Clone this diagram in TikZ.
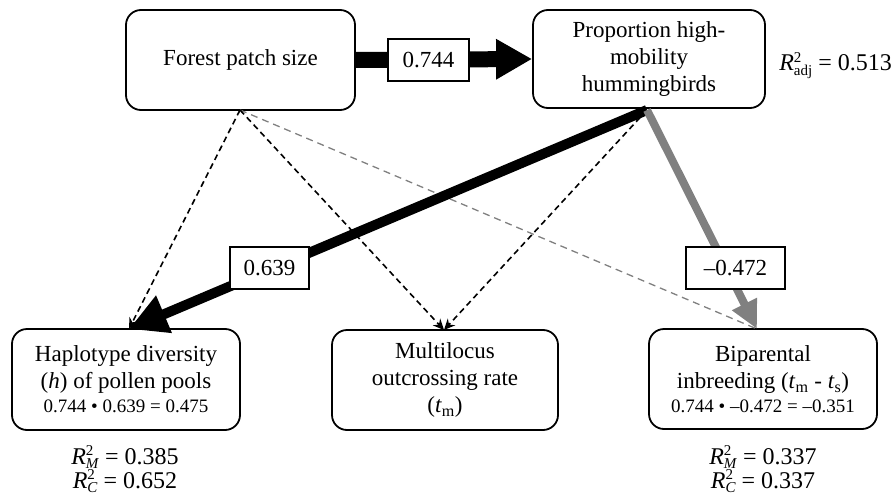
\documentclass[tikz,border=0pt]{standalone}
\usepackage{fontspec}
\setmainfont{Liberation Serif}
\usetikzlibrary{arrows.meta}
\definecolor{pathgray}{RGB}{128,128,128}
\newcommand{\Rsq}[1]{\textit{R}\makebox[0pt][l]{\raisebox{0.36em}{\fontsize{15}{15}\selectfont 2}}\raisebox{-0.2em}{\fontsize{15}{15}\selectfont #1}}
\tikzset{
  varbox/.style={draw, line width=1.8pt, rounded corners=15pt, align=center, inner sep=0pt,
    font=\fontsize{23}{27}\selectfont},
  coefbox/.style={draw, line width=1.2pt, fill=white, inner sep=0pt, font=\fontsize{23}{26}\selectfont},
  dashedpath/.style={line width=1.6pt, dash pattern=on 6pt off 4pt, -{Stealth[length=11pt,width=10pt]}},
  graydashed/.style={line width=1.3pt, draw=pathgray, dash pattern=on 7pt off 5pt},
  rtext/.style={font=\fontsize{24}{28}\selectfont, inner sep=0pt}
}
\begin{document}
\begin{tikzpicture}[x=1pt,y=-1pt]
\useasboundingbox (0,0) rectangle (893,492);
% boxes
\node[varbox, minimum width=229pt, minimum height=100pt] (F) at (240.5,60) {Forest patch size};
\node[varbox, minimum width=232pt, minimum height=98pt] (P) at (649,59) {Proportion high-\\mobility\\hummingbirds};
\node[varbox, minimum width=228pt, minimum height=101pt] (H) at (126,379.5) {Haplotype diversity\\(\textit{h}) of pollen pools\\[-3pt]{\fontsize{19}{22}\selectfont 0.744 • 0.639 = 0.475}};
\node[varbox, minimum width=226pt, minimum height=100pt] (M) at (445,380) {Multilocus\\outcrossing rate\\(\textit{t}\textsubscript{m})};
\node[varbox, minimum width=228pt, minimum height=100pt] (B) at (763,379) {Biparental\\inbreeding (\textit{t}\textsubscript{m} - \textit{t}\textsubscript{s})\\[-3pt]{\fontsize{19}{22}\selectfont 0.744 • –0.472 = –0.351}};
% anchor points
\coordinate (Fs) at (240,110);
\coordinate (Ps) at (647,110);
\coordinate (Ht) at (129,329);
\coordinate (Mt) at (444,330);
\coordinate (Bt) at (757,329);
% dashed non-significant paths
\draw[graydashed] (Fs) -- (Bt);
\draw[dashedpath] (Fs) -- (Ht);
\draw[dashedpath] (Fs) -- (Mt);
\draw[dashedpath] (Ps) -- (Mt);
% significant paths
\draw[line width=16pt, -{Triangle[length=36pt,width=38pt]}] (F.east) -- (P.west);
\draw[line width=10pt, -{Triangle[length=38pt,width=38pt]}] (Ps) -- (Ht);
\draw[line width=8pt, pathgray, -{Triangle[length=28pt,width=26pt]}] (Ps) -- (Bt);
% coefficient labels
\node[coefbox, minimum width=81pt, minimum height=42pt] (c1) at (428.5,60) {0.744};
\node[coefbox, minimum width=79pt, minimum height=42pt] (c2) at (269.5,268) {0.639};
\node[coefbox, minimum width=99pt, minimum height=42pt] (c3) at (735.5,268) {–0.472};
% R squared
\node[rtext, anchor=base east] (radj) at (892,71) {\Rsq{adj} = 0.513};
\node[rtext, anchor=base] (hm) at (125,464) {\Rsq{\textit{M}} = 0.385};
\node[rtext, anchor=base] (hc) at (125,488) {\Rsq{\textit{C}} = 0.652};
\node[rtext, anchor=base] (bm) at (763,464) {\Rsq{\textit{M}} = 0.337};
\node[rtext, anchor=base] (bc) at (763,488) {\Rsq{\textit{C}} = 0.337};
\end{tikzpicture}
\end{document}
